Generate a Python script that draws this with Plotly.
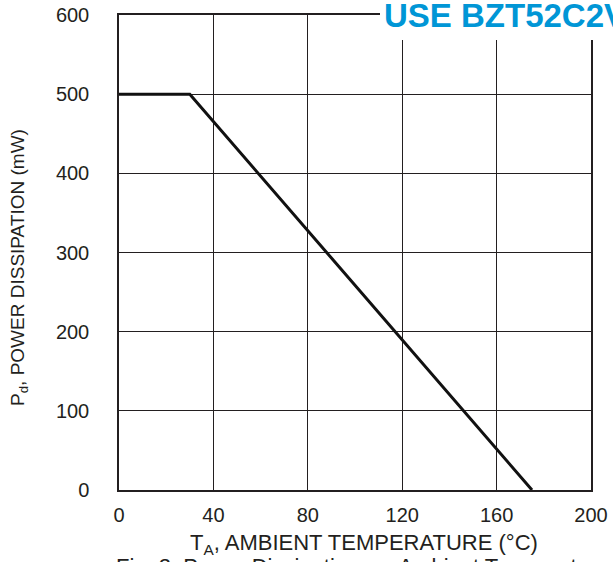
import plotly.graph_objects as go

# Data
temp_c = [0, 30, 175]
power_mw = [500, 500, 0]
x_ticks = [0, 40, 80, 120, 160, 200]
y_ticks = [0, 100, 200, 300, 400, 500, 600]

W, H = 613, 562
L, R, T, B = 119, 22, 15, 72
pw, ph = W - L - R, H - T - B

def px_x(p):
    # window pixel -> paper fraction
    return (p - L) / pw

def px_y(p):
    return (H - B - p) / ph

ink = "#231f20"
font = "Liberation Sans, Arial, sans-serif"

fig = go.Figure()
fig.add_trace(go.Scatter(x=temp_c, y=power_mw, mode="lines",
                         line=dict(color="#111111", width=3), showlegend=False,
                         cliponaxis=False))

axis_common = dict(showgrid=True, gridcolor=ink, gridwidth=1, showline=True,
                   linecolor=ink, linewidth=1.5, mirror=True, zeroline=False,
                   ticks="", tickfont=dict(family=font, size=20, color=ink))

fig.update_xaxes(range=[0, 200], tickvals=x_ticks, ticklabelstandoff=6, **axis_common)
fig.update_yaxes(range=[0, 600], tickvals=y_ticks, ticklabelstandoff=24, **axis_common)

fig.update_layout(
    width=W, height=H,
    margin=dict(l=L, r=R, t=T, b=B, autoexpand=False),
    paper_bgcolor="white", plot_bgcolor="white",
    font=dict(family=font, color=ink),
    shapes=[dict(type="rect", xref="paper", yref="paper", layer="above",
                 x0=px_x(380), x1=1.2, y0=px_y(40), y1=1.1,
                 fillcolor="white", line=dict(width=0))],
    annotations=[
        dict(text="USE BZT52C2V4-BZT52C51", xref="paper", yref="paper",
             x=px_x(382), y=px_y(15), xanchor="left", yanchor="middle",
             showarrow=False, font=dict(family=font, size=33, color="#0096d6", weight="bold")),
        dict(text="T<sub>A</sub>, AMBIENT TEMPERATURE (°C)", xref="paper", yref="paper",
             x=px_x(364), y=px_y(544), xanchor="center", yanchor="middle",
             showarrow=False, font=dict(family=font, size=22, color=ink)),
        dict(text="Fig. 2  Power Dissipation vs. Ambient Temperature", xref="paper", yref="paper",
             x=px_x(362), y=px_y(566), xanchor="center", yanchor="middle",
             showarrow=False, font=dict(family=font, size=22, color=ink)),
        dict(text="P<sub>d</sub>, POWER DISSIPATION (mW)", xref="paper", yref="paper",
             x=px_x(19), y=px_y(268), xanchor="center", yanchor="middle", textangle=-90,
             showarrow=False, font=dict(family=font, size=19, color=ink)),
    ],
)

fig.write_html("out.html", config={"displayModeBar": False},
               post_script="document.body.style.margin='0';document.body.style.overflow='hidden';")
